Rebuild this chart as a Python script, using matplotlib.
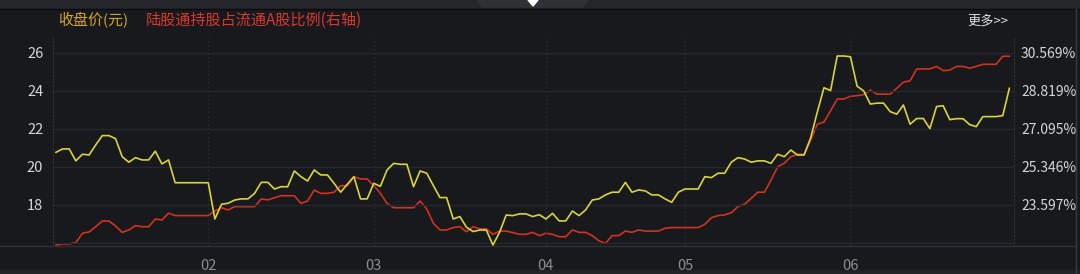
import matplotlib.pyplot as plt
from matplotlib.lines import Line2D
from matplotlib.patches import Polygon, Rectangle

plt.rcParams['font.family'] = ['Noto Sans CJK SC', 'DejaVu Sans']
plt.rcParams['font.weight'] = 500

## Data
## ====
# 收盘价(元), one value per trading day
price = [20.77, 20.95, 20.95, 20.32, 20.67, 20.63, 21.16, 21.65, 21.65, 21.49,
         20.54, 20.25, 20.49, 20.37, 20.37, 20.83, 20.16, 20.37, 19.17, 19.17,
         19.17, 19.17, 19.17, 19.17, 17.26, 18.04, 18.09, 18.26, 18.32, 18.32,
         18.61, 19.19, 19.19, 18.84, 18.96, 18.96, 19.79, 19.49, 19.26, 19.84,
         19.58, 19.58, 19.14, 18.67, 19.09, 19.49, 18.32, 18.32, 19.14, 18.98,
         19.84, 20.19, 20.14, 20.14, 18.96, 19.79, 19.67, 19.02, 18.39, 18.39,
         17.26, 17.39, 16.83, 16.60, 16.68, 16.68, 15.89, 16.56, 17.47, 17.44,
         17.53, 17.53, 17.39, 17.49, 17.26, 17.56, 17.16, 17.16, 17.68, 17.44,
         17.74, 18.26, 18.32, 18.53, 18.67, 18.67, 19.19, 18.67, 18.79, 18.74,
         18.53, 18.53, 18.32, 18.14, 18.67, 18.84, 18.84, 18.84, 19.49, 19.44,
         19.67, 19.67, 20.25, 20.49, 20.42, 20.25, 20.32, 20.32, 20.19, 20.67,
         20.54, 20.89, 20.63, 20.63, 21.55, 22.90, 24.17, 24.02, 25.84, 25.84,
         25.80, 24.25, 24.00, 23.31, 23.36, 23.36, 22.91, 22.78, 23.26, 22.25,
         22.55, 22.55, 22.02, 23.18, 23.22, 22.49, 22.54, 22.54, 22.23, 22.12,
         22.65, 22.65, 22.65, 22.70, 24.14]

# 陆股通持股占流通A股比例 (%)
hold_pct = [21.76, 21.81, 21.81, 21.87, 22.30, 22.36, 22.60, 22.86, 22.86, 22.63,
            22.34, 22.45, 22.65, 22.60, 22.60, 22.95, 22.91, 23.22, 23.11, 23.11,
            23.11, 23.11, 23.11, 23.11, 23.32, 23.47, 23.37, 23.52, 23.52, 23.52,
            23.52, 23.87, 23.83, 23.93, 24.02, 24.02, 24.02, 23.67, 23.78, 24.28,
            24.13, 24.13, 24.18, 24.48, 24.48, 24.89, 24.79, 24.79, 24.48, 24.13,
            23.67, 23.47, 23.47, 23.47, 23.47, 23.78, 23.41, 22.76, 22.45, 22.45,
            22.56, 22.60, 22.37, 22.60, 22.50, 22.50, 22.25, 22.40, 22.40, 22.33,
            22.25, 22.25, 22.34, 22.19, 22.30, 22.25, 22.14, 22.14, 22.45, 22.34,
            22.34, 22.19, 21.95, 21.84, 22.19, 22.19, 22.40, 22.34, 22.45, 22.40,
            22.40, 22.40, 22.53, 22.56, 22.56, 22.56, 22.56, 22.56, 22.71, 23.01,
            23.11, 23.14, 23.24, 23.52, 23.63, 23.90, 24.18, 24.18, 24.74, 25.35,
            25.51, 25.81, 25.92, 25.92, 26.58, 27.30, 27.40, 27.92, 28.46, 28.46,
            28.58, 28.61, 28.66, 28.87, 28.68, 28.68, 28.68, 28.95, 29.23, 29.29,
            29.83, 29.84, 29.84, 29.95, 29.76, 29.78, 29.95, 29.95, 29.87, 29.95,
            30.05, 30.05, 30.05, 30.42, 30.42]

month_pos = [23, 48, 74, 95, 120]
month_labels = ['02', '03', '04', '05', '06']

left_ticks = [18, 20, 22, 24, 26]
right_labels = ['23.597%', '25.346%', '27.095%', '28.819%', '30.569%']


def to_right(v):
    # right axis is tied to the left gridlines
    return 23.597 + (v - 18) * (30.569 - 23.597) / 8


## Figure
## ======
bg = '#17191d'
grid_c = '#26282d'
fig = plt.figure(figsize=(10.8, 2.74), dpi=100, facecolor=bg)

# top bar with the little tab
fig.patches.append(Rectangle((0, 1 - 8 / 274), 1, 8 / 274, transform=fig.transFigure,
                             color='#25262b', zorder=0))
fig.patches.append(Polygon([(477 / 1080, 1), (588 / 1080, 1), (583 / 1080, 1 - 7 / 274),
                            (482 / 1080, 1 - 7 / 274)], closed=True,
                           transform=fig.transFigure, color='#303137', zorder=1))
fig.patches.append(Polygon([(528 / 1080, 1), (538 / 1080, 1), (533 / 1080, 1 - 6 / 274)],
                           closed=True, transform=fig.transFigure, color='white', zorder=2))
fig.lines.append(Line2D([0, 1], [1 - 8.5 / 274, 1 - 8.5 / 274], transform=fig.transFigure,
                        color='#0b0b0d', lw=1))
# bottom strip
fig.patches.append(Rectangle((0, 0), 1, 4 / 274, transform=fig.transFigure,
                             color='#212226', zorder=0))
# bottom axis line spans whole width
fig.lines.append(Line2D([0, 1075 / 1080], [1 - 246 / 274, 1 - 246 / 274],
                        transform=fig.transFigure, color='#2f3136', lw=1))
fig.lines.append(Line2D([1075.5 / 1080, 1075.5 / 1080], [0, 1 - 9 / 274],
                        transform=fig.transFigure, color='#3a3b40', lw=1))

ax = fig.add_axes([53 / 1080, 1 - 246 / 274, 961 / 1080, 209 / 274])
ax.set_facecolor(bg)
ax2 = ax.twinx()

x = list(range(len(price)))
ax2.plot(x, hold_pct, color='#d2321f', lw=1.2)
ax.plot(x, price, color='#d8d43a', lw=1.2)
ax.set_zorder(ax2.get_zorder() + 1)
ax.patch.set_visible(False)

ylo, yhi = 15.84, 26.84
ax.set_ylim(ylo, yhi)
ax2.set_ylim(to_right(ylo), to_right(yhi))
ax.set_xlim(-0.45, len(price) - 1 + 0.7)

ax.set_yticks([16] + left_ticks, labels=[''] + [str(t) for t in left_ticks])
ax2.set_yticks([to_right(t) for t in left_ticks], labels=right_labels)
ax.set_xticks(month_pos, labels=month_labels)

ax.grid(axis='y', color=grid_c, lw=1)
ax.grid(axis='x', color='#2c2e34', lw=1, linestyle=(0, (1, 2)))

for a in (ax, ax2):
    for s in ('top', 'bottom'):
        a.spines[s].set_visible(False)
    for s in ('left', 'right'):
        a.spines[s].set_color('#2c2e34')
        a.spines[s].set_linestyle((0, (1, 2)))
    a.tick_params(length=0)

ax.tick_params(axis='y', labelsize=10.5, labelcolor='#d6d6d6', pad=7)
ax2.tick_params(axis='y', labelsize=10, labelcolor='#d6d6d6', pad=5)
ax.tick_params(axis='x', labelsize=10.5, labelcolor='#8e8e8e', pad=9)

# header texts
fig.text(58 / 1080, 1 - 20 / 274, '收盘价(元)', color='#d6a62c', fontsize=10.8, va='center')
fig.text(146 / 1080, 1 - 20 / 274, '陆股通持股占流通A股比例(右轴)', color='#d8392e',
         fontsize=10.9, va='center')
fig.text(1008 / 1080, 1 - 21 / 274, '更多>>', color='#e2e2e2', fontsize=9.5,
         va='center', ha='right')

fig.savefig('out.png', dpi=100, facecolor=bg)
